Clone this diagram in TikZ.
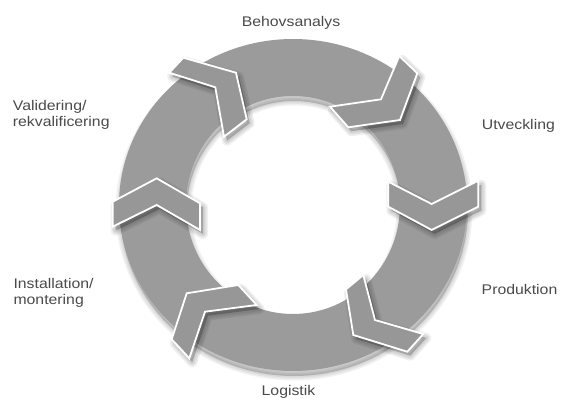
\documentclass[tikz,border=0pt]{standalone}
\usepackage{fontspec}
\setmainfont{Liberation Sans}[FakeStretch=1.13]
\definecolor{ringgray}{HTML}{9B9B9B}
\definecolor{chevgray}{HTML}{979797}
\definecolor{txt}{HTML}{4A4A4A}
\newcommand\RingShape[1]{\path[#1,even odd rule] (293,205) ellipse [x radius=174, y radius=166] (293,205) ellipse [x radius=107, y radius=109];}
\newcommand\Chev[6]{%
  \begin{scope}[shift={(3,4)}]
    \foreach \w in {10,7,4}{\draw[black,opacity=0.06,line width=\w pt,line join=round] #1--#2--#3--#4--#5--#6--cycle;}
    \fill[black,opacity=0.22] #1--#2--#3--#4--#5--#6--cycle;
  \end{scope}
  \path[chev] #1--#2--#3--#4--#5--#6--cycle;
}
\begin{document}
\begin{tikzpicture}[x=1pt,y=-1pt,
  lbl/.style={text=txt, font=\fontsize{14}{16.5}\selectfont, inner sep=0pt},
  chev/.style={fill=chevgray, draw=white, line width=1.8pt, line join=miter}]
\useasboundingbox (0,0) rectangle (571,397);
\fill[white] (0,0) rectangle (571,397);
% ring shadow
\begin{scope}[shift={(1,5)}]
  \foreach \w in {9,6,3}{\RingShape{draw=black,opacity=0.05,line width=\w pt}}
  \RingShape{fill=black,opacity=0.18}
\end{scope}
% ring
\RingShape{fill=ringgray}
% chevrons
\Chev{(183.3,57.7)}{(236,72.7)}{(246.7,119.3)}{(224,136.7)}{(215.3,87.3)}{(169.3,72.7)}
\Chev{(399.3,56)}{(417.3,73.3)}{(400,120)}{(348.3,127.3)}{(330,106.7)}{(381,99.3)}
\Chev{(388.3,181.7)}{(431.7,204)}{(478.3,180.7)}{(478.3,206.7)}{(431.7,230)}{(388.3,206.7)}
\Chev{(363.3,275)}{(346,289.3)}{(353.3,335)}{(407.3,351.7)}{(423.3,334)}{(375,320)}
\Chev{(186.7,293.3)}{(238.3,285)}{(256.7,305)}{(205,311.7)}{(189.3,358.3)}{(171.7,339.3)}
\Chev{(156.7,178.3)}{(200,203.3)}{(200,230)}{(156.7,205)}{(112.7,226.7)}{(112.7,201.7)}
% labels
\node[lbl, anchor=base] (beh) at (291,26.7) {Behovsanalys};
\node[lbl, anchor=base west] (utv) at (481.7,129) {Utveckling};
\node[lbl, anchor=base west] (prod) at (481.5,294) {Produktion};
\node[lbl, anchor=base] (log) at (288.5,395) {Logistik};
\node[lbl, anchor=base west] (val1) at (12.7,110.7) {Validering/};
\node[lbl, anchor=base west] (val2) at (12.7,126.5) {rekvalificering};
\node[lbl, anchor=base west] (ins1) at (13.3,288.3) {Installation/};
\node[lbl, anchor=base west] (ins2) at (13.3,304.3) {montering};
\end{tikzpicture}
\end{document}
